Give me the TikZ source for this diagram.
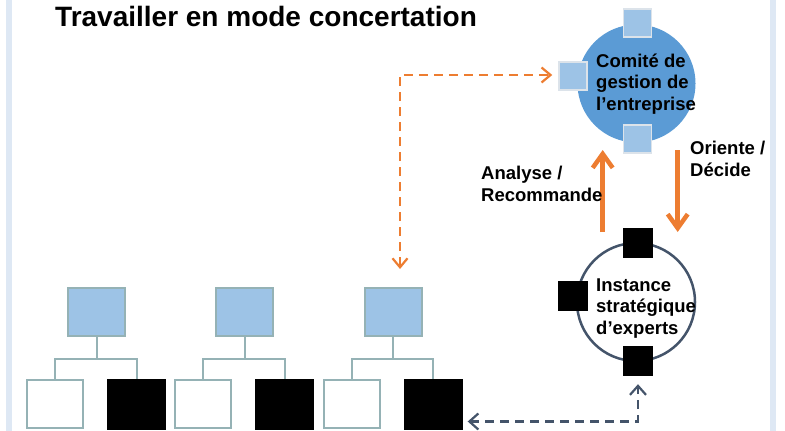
\documentclass[tikz,border=0pt]{standalone}
\usepackage{fontspec}
\setmainfont{Liberation Sans}
\usetikzlibrary{arrows.meta,calc}

\definecolor{stripe}{HTML}{DEE8F4}
\definecolor{cblue}{HTML}{5B9BD5}
\definecolor{lblue}{HTML}{9DC3E6}
\definecolor{sqedge}{HTML}{DCE3EA}
\definecolor{treeedge}{HTML}{95B2B5}
\definecolor{orng}{HTML}{ED7D31}
\definecolor{slate}{HTML}{44546A}

\tikzset{
  % multi-line labels: the base anchor sits on the last line
  lbl/.style={font=\bfseries\fontsize{18.5}{21.5}\selectfont, align=left, inner sep=0pt, anchor=base west},
  parentbox/.style={draw=treeedge, line width=2pt, fill=lblue, minimum width=57pt, minimum height=48pt, inner sep=0pt},
  whitebox/.style={draw=treeedge, line width=2pt, fill=white, minimum width=56pt, minimum height=48pt, inner sep=0pt},
  blackbox/.style={fill=black, minimum width=59pt, minimum height=51pt, inner sep=0pt},
  treeline/.style={draw=treeedge, line width=2pt},
  portblue/.style={draw=sqedge, line width=1.5pt, fill=lblue, minimum size=28pt, inner sep=0pt},
  portblack/.style={fill=black, minimum size=30pt, inner sep=0pt},
  flow/.style={draw=orng, line width=4.5pt, -{Straight Barb[length=14pt,width=20pt]}},
  odash/.style={draw=orng, line width=2.2pt, dash pattern=on 9pt off 6pt,
    {Straight Barb[length=9pt,width=15pt]}-{Straight Barb[length=9pt,width=15pt]}},
  gdash/.style={draw=slate, line width=2.2pt, dash pattern=on 9pt off 6pt,
    {Straight Barb[length=9pt,width=16pt]}-{Straight Barb[length=9pt,width=16pt]}},
}

\begin{document}
\begin{tikzpicture}[x=1pt,y=-1pt]
\useasboundingbox (0,0) rectangle (785,431);

% side bands
\fill[stripe] (6,0) rectangle (12,431);
\fill[stripe] (770,0) rectangle (776,431);

% title
\node[font=\bfseries\fontsize{28}{32}\selectfont, inner sep=0pt, anchor=base west] (title) at (55,27) {Travailler en mode concertation};

% three small organisation trees
\foreach \i/\dx in {1/0, 2/148, 3/296.5} {
  \node[parentbox] (t\i) at (96.5+\dx,312) {};
  \node[whitebox]  (w\i) at (55+\dx,404) {};
  \node[blackbox]  (b\i) at (136.5+\dx,404.5) {};
  \coordinate (j\i) at ($(t\i.south)+(0,22)$);
  \draw[treeline] (t\i.south) -- (j\i);
  \draw[treeline] (w\i.north) |- (j\i) -| (b\i.north);
}

% management committee
\node[circle, fill=cblue, minimum size=118pt, inner sep=0pt] (comite) at (636.5,83.5) {};
\node[portblue] (ct) at (637.5,23) {};
\node[portblue] (cl) at (573,76) {};
\node[portblue] (cb) at (637.5,139) {};
\node[lbl] (comite-txt) at (596,110) {Comité de\\gestion de\\l’entreprise};

% experts body
\node[circle, draw=slate, line width=2.5pt, fill=white, minimum size=118pt, inner sep=0pt] (instance) at (636,302) {};
\node[portblack] (it) at (638,243) {};
\node[portblack] (il) at (573,296) {};
\node[portblack] (ib) at (638,361) {};
\node[lbl] (instance-txt) at (596,334) {Instance\\stratégique\\d’experts};

% up and down flows between the two bodies
\coordinate (up-from) at (602.7,232);
\coordinate (up-to) at (602.7,150);
\coordinate (dn-from) at (677.7,150);
\coordinate (dn-to) at (677.7,232);
\draw[flow] (up-from) -- (up-to);
\draw[flow] (dn-from) -- (dn-to);
\node[lbl] (analyse) at (481,201) {Analyse /\\Recommande};
\node[lbl] (oriente) at (690,176) {Oriente /\\Décide};

% dashed links
\coordinate (oa) at ($(t3.north)+(7,-18)$);
\coordinate (ob) at ($(cl.west)+(-6,-1)$);
\draw[odash] (oa) |- (ob);

\coordinate (ga) at ($(b3.east)+(5,17)$);
\coordinate (gb) at ($(ib.south)+(0,8)$);
\draw[gdash] (ga) -| (gb);
\end{tikzpicture}
\end{document}
